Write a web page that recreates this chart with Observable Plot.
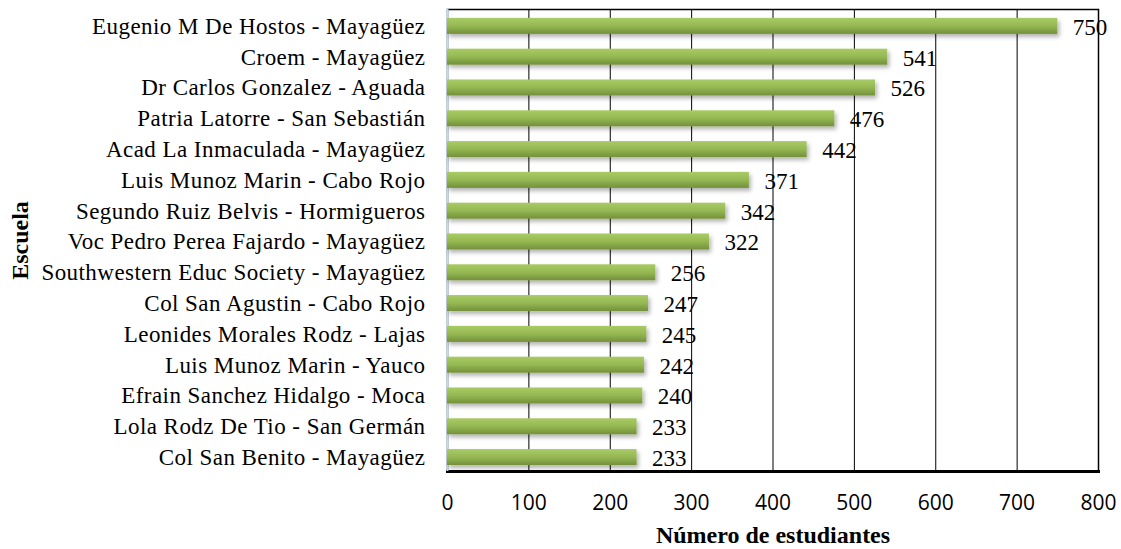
<!DOCTYPE html>
<html>
<head>
<meta charset="utf-8">
<script src="https://cdn.jsdelivr.net/npm/d3@7"></script>
<script src="https://cdn.jsdelivr.net/npm/@observablehq/plot@0.6"></script>
<style>
  html, body { margin: 0; padding: 0; background: #fff; }
</style>
</head>
<body>
<div id="chart"></div>
<script>
const escuelas = [
  "Eugenio M De Hostos - Mayagüez",
  "Croem - Mayagüez",
  "Dr Carlos Gonzalez - Aguada",
  "Patria Latorre - San Sebastián",
  "Acad La Inmaculada - Mayagüez",
  "Luis Munoz Marin - Cabo Rojo",
  "Segundo Ruiz Belvis - Hormigueros",
  "Voc Pedro Perea Fajardo - Mayagüez",
  "Southwestern Educ Society - Mayagüez",
  "Col San Agustin - Cabo Rojo",
  "Leonides Morales Rodz - Lajas",
  "Luis Munoz Marin - Yauco",
  "Efrain Sanchez Hidalgo - Moca",
  "Lola Rodz De Tio - San Germán",
  "Col San Benito - Mayagüez"
];
const estudiantes = [750, 541, 526, 476, 442, 371, 342, 322, 256, 247, 245, 242, 240, 233, 233];
const xTicks = [0, 100, 200, 300, 400, 500, 600, 700, 800];
const gridTicks = [100, 200, 300, 400, 500, 600, 700];
const xTitle = "Número de estudiantes";
const yTitle = "Escuela";

const data = escuelas.map((e, i) => ({escuela: e, n: estudiantes[i]}));
const serif = "'Liberation Serif', 'Times New Roman', serif";
const sans = "'Open Sans', 'Noto Sans', sans-serif";

const chart = Plot.plot({
  width: 1121,
  height: 549,
  marginTop: 9,
  marginBottom: 78,
  marginLeft: 447,
  marginRight: 23,
  style: {background: "#fff", color: "#000"},
  x: {domain: [0, 800], axis: null},
  y: {domain: escuelas, paddingInner: 0.48, paddingOuter: 0.24, align: 0.6, round: false, axis: null},
  marks: [
    Plot.ruleX(gridTicks, {stroke: "#000", strokeWidth: 1}),
    Plot.frame({stroke: "#000", strokeWidth: 1.5}),
    Plot.frame({anchor: "bottom", stroke: "#000", strokeWidth: 3}),
    Plot.ruleX([0], {stroke: "#c6d9f0", strokeWidth: 2}),
    Plot.barX(data, {y: "escuela", x: "n", fill: "url(#barGrad)"}),
    Plot.text(data, {y: "escuela", x: "n", text: d => String(d.n), textAnchor: "start", dx: 15, dy: 1,
      fontSize: 23, fontFamily: serif, fill: "#000"}),
    Plot.axisY({tickSize: 0, tickPadding: 22, fontSize: 23, fontFamily: serif, label: null}),
    Plot.axisX({ticks: xTicks, tickSize: 0, tickPadding: 24, fontSize: 21, fontFamily: sans, label: null, tickFormat: d => String(d)}),
    Plot.text([xTitle], {frameAnchor: "bottom", dy: 71, fontSize: 24, fontWeight: "bold", fontFamily: serif, fill: "#000"}),
    Plot.text([yTitle], {frameAnchor: "left", textAnchor: "middle", dx: -427, rotate: -90, fontSize: 24, fontWeight: "bold", fontFamily: serif, fill: "#000"})
  ]
});

// gradient + shadow defs
const ns = "http://www.w3.org/2000/svg";
const defs = document.createElementNS(ns, "defs");
defs.innerHTML = `
  <linearGradient id="barGrad" x1="0" y1="0" x2="0" y2="1">
    <stop offset="0" stop-color="#a9cb66"/>
    <stop offset="0.5" stop-color="#95b853"/>
    <stop offset="1" stop-color="#73903a"/>
  </linearGradient>
  <filter id="barShadow" x="-5%" y="-30%" width="110%" height="180%">
    <feDropShadow dx="2" dy="3" stdDeviation="2" flood-color="#000" flood-opacity="0.3"/>
  </filter>`;
chart.insertBefore(defs, chart.firstChild);
chart.querySelectorAll("g[aria-label='bar'] rect").forEach(r => r.setAttribute("filter", "url(#barShadow)"));
chart.querySelectorAll("g[aria-label='y-axis tick label']").forEach(g => g.setAttribute("letter-spacing", "0.45"));
document.getElementById("chart").appendChild(chart);
</script>
</body>
</html>
